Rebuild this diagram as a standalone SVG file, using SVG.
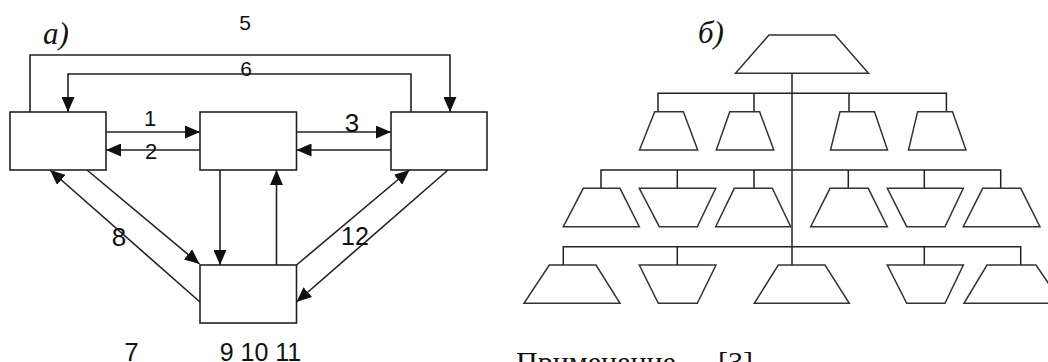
<svg xmlns="http://www.w3.org/2000/svg" width="1048" height="362" viewBox="0 0 1048 362">
<style>
.box{fill:#fff;stroke:#222;stroke-width:1.6}
.ln{fill:none;stroke:#222;stroke-width:1.6}
.tr{fill:#fff;stroke:#333;stroke-width:1.5;stroke-linejoin:miter}
.tl{fill:none;stroke:#222;stroke-width:1.5}
.lbl{font-family:"Liberation Sans",Arial,sans-serif;fill:#111;text-anchor:middle}
.it{font-family:"Liberation Serif","Times New Roman",serif;font-style:italic;fill:#111}
.note{font-family:"Liberation Serif","Times New Roman",serif;fill:#111}
</style>
<defs>
<marker id="ah" markerUnits="userSpaceOnUse" markerWidth="15" markerHeight="13" refX="15" refY="6.5" orient="auto">
<path d="M0,0 L15,6.5 L0,13 z" fill="#111"/>
</marker>
</defs>
<rect width="1048" height="362" fill="#fff"/>

<!-- left diagram -->
<text class="it" x="43" y="43.5" font-size="31">а)</text>
<g id="connectors-a">
<path class="ln" d="M106,132 H200" marker-end="url(#ah)"/>
<path class="ln" d="M200,150 H106" marker-end="url(#ah)"/>
<path class="ln" d="M296,132 H391" marker-end="url(#ah)"/>
<path class="ln" d="M391,150 H296.5" marker-end="url(#ah)"/>
<path class="ln" d="M30,112 V55 H450 V112" marker-end="url(#ah)"/>
<path class="ln" d="M411,112 V74 H68 V112" marker-end="url(#ah)"/>
<path class="ln" d="M220,170 V265" marker-end="url(#ah)"/>
<path class="ln" d="M276.5,265 V170" marker-end="url(#ah)"/>
<path class="ln" d="M200,302 L50,170" marker-end="url(#ah)"/>
<path class="ln" d="M87,170 L199.5,264" marker-end="url(#ah)"/>
<path class="ln" d="M296.5,265 L409.5,170" marker-end="url(#ah)"/>
<path class="ln" d="M448,170 L296.5,302" marker-end="url(#ah)"/>
</g>
<g id="boxA"><rect class="box" x="10" y="112" width="96" height="58"/></g>
<g id="boxB"><rect class="box" x="200" y="112" width="96.5" height="58"/></g>
<g id="boxC"><rect class="box" x="391" y="112" width="96" height="58"/></g>
<g id="boxD"><rect class="box" x="200" y="265" width="96.5" height="58"/></g>
<g id="labels-a">
<text class="lbl" x="245" y="30" font-size="21">5</text>
<text class="lbl" x="246" y="75.5" font-size="21">6</text>
<text class="lbl" x="150" y="126" font-size="22">1</text>
<text class="lbl" x="151" y="159" font-size="22">2</text>
<text class="lbl" x="352" y="131.5" font-size="26">3</text>
<text class="lbl" x="119" y="246" font-size="26">8</text>
<text class="lbl" x="355" y="245" font-size="25">12</text>
<text class="lbl" x="131.5" y="361" font-size="26">7</text>
<text class="lbl" x="260.5" y="361" font-size="25">9 10 11</text>
</g>

<!-- right diagram -->
<text class="it" x="698" y="43" font-size="31">б)</text>
<g id="connectors-b">
<path class="tl" d="M792,73.3 V265"/>
<path class="tl" d="M658,111.7 V93.3 H946.4 V111.7 M754,93.3 V111.7 M849,93.3 V111.7"/>
<path class="tl" d="M601,188.3 V170 H1000.7 V188.3 M677.3,170 V188.3 M754,170 V188.3 M848.3,170 V188.3 M924.3,170 V188.3"/>
<path class="tl" d="M563.3,265 V246.7 H1020.7 V265 M677.3,246.7 V265 M924.3,246.7 V265"/>
</g>
<g id="top"><polygon class="tr" points="769,35 835,35 868.5,73.3 735.5,73.3"/></g>
<g id="r1n1"><polygon class="tr" points="654.7,111.7 683.4,111.7 697.7,150 639.5,150"/></g>
<g id="r1n2"><polygon class="tr" points="729.8,111.7 759.6,111.7 773.8,150 716.3,150"/></g>
<g id="r1n3"><polygon class="tr" points="840,111.7 874.5,111.7 887.5,150 830.5,150"/></g>
<g id="r1n4"><polygon class="tr" points="917.6,111.7 952.5,111.7 966,150 908.5,150"/></g>
<g id="r2n1"><polygon class="tr" points="583.3,188.3 620,188.3 639.3,226.7 563.3,226.7"/></g>
<g id="r2n2"><polygon class="tr" points="639.3,188.3 715.7,188.3 697.3,226.7 659.3,226.7"/></g>
<g id="r2n3"><polygon class="tr" points="734.3,188.3 772.3,188.3 790.7,226.7 715.7,226.7"/></g>
<g id="r2n4"><polygon class="tr" points="830,188.3 868.3,188.3 887.3,226.7 810.7,226.7"/></g>
<g id="r2n5"><polygon class="tr" points="887.3,188.3 963.3,188.3 945,226.7 906.7,226.7"/></g>
<g id="r2n6"><polygon class="tr" points="982.7,188.3 1020.7,188.3 1040,226.7 963.3,226.7"/></g>
<g id="r3n1"><polygon class="tr" points="549.3,265 596,265 620,303.3 524,303.3"/></g>
<g id="r3n2"><polygon class="tr" points="639.3,265 716,265 697.3,303.3 658.3,303.3"/></g>
<g id="r3n3"><polygon class="tr" points="778.3,265 825,265 849.3,303.3 754.3,303.3"/></g>
<g id="r3n4"><polygon class="tr" points="887.3,265 963.3,265 945,303.3 906.7,303.3"/></g>
<g id="r3n5"><polygon class="tr" points="987,265 1036,265 1062,303.3 964,303.3"/></g>

<text class="note" x="516" y="371.5" font-size="30">Применение –<tspan x="718">[3]</tspan></text>
</svg>
